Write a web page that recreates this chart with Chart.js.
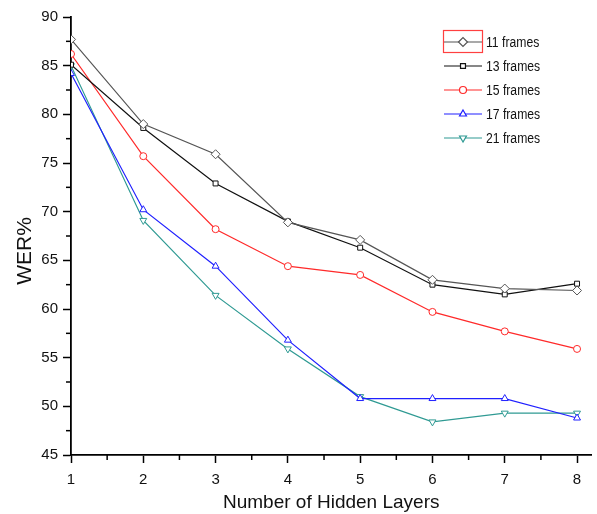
<!DOCTYPE html>
<html><head><meta charset="utf-8">
<script src="https://cdn.jsdelivr.net/npm/chart.js@4.4.0/dist/chart.umd.min.js"></script>
<style>html,body{margin:0;padding:0;background:#fff}#wrap{width:597px;height:514px}</style>
</head><body><div id="wrap"><canvas id="c" width="597" height="514"></canvas></div>
<script>
const layers = [1, 2, 3, 4, 5, 6, 7, 8];
const wer11 = [87.7, 79.0, 75.9, 68.9, 67.1, 63.0, 62.1, 61.9];
const wer13 = [85.1, 78.6, 72.9, 69.0, 66.3, 62.5, 61.5, 62.6];
const wer15 = [86.2, 75.7, 68.2, 64.4, 63.5, 59.7, 57.7, 55.9];
const wer17 = [84.2, 70.2, 64.4, 56.8, 50.8, 50.8, 50.8, 48.8];
const wer21 = [85.0, 69.1, 61.4, 55.9, 51.0, 48.4, 49.3, 49.3];
const seriesNames = ['11 frames', '13 frames', '15 frames', '17 frames', '21 frames'];
const xTickValues = [1, 2, 3, 4, 5, 6, 7, 8];
const yTickValues = [45, 50, 55, 60, 65, 70, 75, 80, 85, 90];
const xTitle = 'Number of Hidden Layers';
const yTitle = 'WER%';

const FONT = '"Liberation Sans", Arial, sans-serif';
const styles = [
  {color: '#555555', point: 'rectRot', rot: 0, r: 4.5},
  {color: '#111111', point: 'rect', rot: 0, r: 3.5},
  {color: '#ff2a2a', point: 'circle', rot: 0, r: 3.5},
  {color: '#2020ff', point: 'triangle', rot: 0, r: 4},
  {color: '#2f9a93', point: 'triangle', rot: 180, r: 4}
];
const allData = [wer11, wer13, wer15, wer17, wer21];

const datasets = allData.map((vals, i) => ({
  label: seriesNames[i],
  data: layers.map((x, j) => ({x: x, y: vals[j]})),
  borderColor: styles[i].color,
  backgroundColor: '#ffffff',
  pointBorderColor: styles[i].color,
  pointBackgroundColor: '#ffffff',
  pointStyle: styles[i].point,
  pointRotation: styles[i].rot,
  pointRadius: styles[i].r,
  pointBorderWidth: 1,
  borderWidth: 1.2,
  tension: 0
}));

const minorTicks = {
  id: 'minorTicks',
  afterDraw(chart) {
    const ctx = chart.ctx;
    const xs = chart.scales.x, ys = chart.scales.y;
    ctx.save();
    ctx.strokeStyle = '#000';
    ctx.lineWidth = 1.5;
    for (let v = 1.5; v < 8.2; v += 1) {
      const px = xs.getPixelForValue(v);
      ctx.beginPath(); ctx.moveTo(px, ys.bottom); ctx.lineTo(px, ys.bottom + 5); ctx.stroke();
    }
    for (let v = 47.5; v < 90; v += 5) {
      const py = ys.getPixelForValue(v);
      ctx.beginPath(); ctx.moveTo(xs.left, py); ctx.lineTo(xs.left - 5, py); ctx.stroke();
    }
    // y-axis title
    ctx.fillStyle = '#111';
    ctx.font = '21px ' + FONT;
    ctx.textAlign = 'center';
    ctx.textBaseline = 'middle';
    ctx.translate(25, 251);
    ctx.rotate(-Math.PI / 2);
    ctx.fillText(yTitle, 0, 0);
    ctx.restore();
  }
};

const customLegend = {
  id: 'customLegend',
  afterDraw(chart) {
    const ctx = chart.ctx;
    ctx.save();
    const x0 = 444, x1 = 482, y0 = 42, dy = 24;
    chart.data.datasets.forEach((ds, i) => {
      const y = y0 + i * dy;
      ctx.strokeStyle = ds.borderColor;
      ctx.lineWidth = 1.2;
      ctx.beginPath(); ctx.moveTo(x0, y); ctx.lineTo(x1, y); ctx.stroke();
      ctx.fillStyle = '#fff';
      Chart.helpers.drawPoint(ctx, {pointStyle: ds.pointStyle, rotation: ds.pointRotation, radius: ds.pointRadius, borderWidth: 1}, (x0 + x1) / 2, y);
      ctx.save();
      ctx.fillStyle = '#111';
      ctx.font = '14px ' + FONT;
      ctx.textAlign = 'left';
      ctx.textBaseline = 'middle';
      ctx.translate(486, y + 1);
      ctx.scale(0.87, 1);
      ctx.fillText(ds.label, 0, 0);
      ctx.restore();
    });
    ctx.strokeStyle = '#ff4040';
    ctx.lineWidth = 1.2;
    ctx.strokeRect(443.5, 30.5, 39, 22);
    ctx.restore();
  }
};

new Chart(document.getElementById('c'), {
  type: 'line',
  data: {datasets: datasets},
  options: {
    responsive: false,
    animation: false,
    devicePixelRatio: 1,
    layout: {padding: {top: 17, right: 2, left: 0, bottom: 0}},
    plugins: {legend: {display: false}, tooltip: {enabled: false}},
    scales: {
      x: {
        type: 'linear', min: 1, max: 8.2,
        afterBuildTicks: s => { s.ticks = xTickValues.map(v => ({value: v})); },
        afterFit: s => { s.height = 59; },
        grid: {drawOnChartArea: false, tickLength: 8, tickColor: '#000', tickWidth: 1.5},
        border: {color: '#000', width: 1.8},
        ticks: {color: '#111', font: {family: FONT, size: 15}, padding: 8, maxRotation: 0},
        title: {display: true, text: xTitle, color: '#111', font: {family: FONT, size: 19}, padding: {top: 3, bottom: 0}}
      },
      y: {
        type: 'linear', min: 45, max: 90,
        afterBuildTicks: s => { s.ticks = yTickValues.map(v => ({value: v})); },
        afterFit: s => { s.width = 71; },
        grid: {drawOnChartArea: false, tickLength: 8, tickColor: '#000', tickWidth: 1.5},
        border: {color: '#000', width: 1.8},
        ticks: {color: '#111', font: {family: FONT, size: 15}, padding: 5}
      }
    }
  },
  plugins: [minorTicks, customLegend]
});
</script>
</body></html>
